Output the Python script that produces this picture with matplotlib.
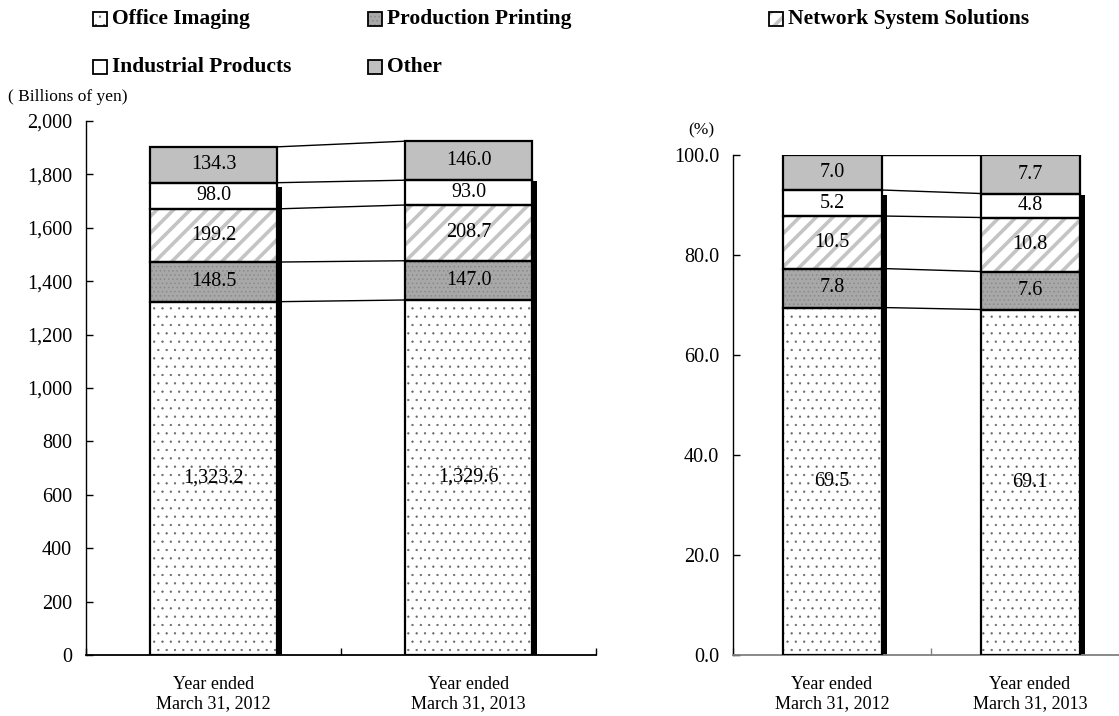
import matplotlib
matplotlib.use("Agg")
import matplotlib.pyplot as plt
from matplotlib.patches import Rectangle
from matplotlib.ticker import FuncFormatter

plt.rcParams["font.family"] = ["Liberation Serif", "DejaVu Serif"]

# ---- data -------------------------------------------------------------
periods = ["Year ended\nMarch 31, 2012", "Year ended\nMarch 31, 2013"]
segments = ["Office Imaging", "Production Printing", "Network System Solutions",
            "Industrial Products", "Other"]
sales_2012 = [1323.2, 148.5, 199.2, 98.0, 134.3]
sales_2013 = [1329.6, 147.0, 208.7, 93.0, 146.0]
share_2012 = [69.5, 7.8, 10.5, 5.2, 7.0]
share_2013 = [69.1, 7.6, 10.8, 4.8, 7.7]

# ---- segment styles: (face, hatch, hatch colour, hatch linewidth) -----
styles = [
    ("white", "..", "#666666", 0.4),
    ("#a8a8a8", "....", "#8a8a8a", 0.6),
    ("white", "//", "#c4c4c4", 2.6),
    ("white", "", "black", 1.0),
    ("#c0c0c0", "", "black", 1.0),
]

W, H = 1119, 716
fig = plt.figure(figsize=(W / 100, H / 100), dpi=100)


def fig_box(x0, y_top, x1, y_bottom):
    return [x0 / W, 1 - y_bottom / H, (x1 - x0) / W, (y_bottom - y_top) / H]


ax_val = fig.add_axes(fig_box(86, 121, 596, 655))
ax_pct = fig.add_axes(fig_box(733, 155, 1129, 655))

BAR_W = 0.5


def draw_stack(ax, columns, ymax, fmt, axis_px_w, axis_px_h, bottom_color):
    ax.set_xlim(-0.5, 1.5)
    ax.set_ylim(0, ymax)
    dx = 5 / axis_px_w * 2.0
    dy = 40 / axis_px_h * ymax
    for i, vals in enumerate(columns):
        total = sum(vals)
        # drop shadow on the right side
        ax.bar(i + dx, total - dy, width=BAR_W, color="black", zorder=1,
               linewidth=0)
        bottom = 0.0
        for v, (face, hatch, hcol, hlw) in zip(vals, styles):
            with plt.rc_context({"hatch.linewidth": hlw}):
                ax.bar(i, v, bottom=bottom, width=BAR_W, color=face,
                       edgecolor=hcol, hatch=hatch, linewidth=0, zorder=2)
            ax.bar(i, v, bottom=bottom, width=BAR_W, color="none",
                   edgecolor="black", linewidth=1.6, zorder=3)
            ax.text(i, bottom + v / 2, fmt(v), ha="center", va="center",
                    fontsize=14.5, zorder=4)
            bottom += v
    # connector lines between the two columns
    c0 = 0.0
    c1 = 0.0
    for a, b in zip(columns[0], columns[1]):
        c0 += a
        c1 += b
        ax.plot([BAR_W / 2, 1 - BAR_W / 2], [c0, c1], color="black",
                linewidth=1.0, zorder=1)
    for s in ("top", "right"):
        ax.spines[s].set_visible(False)
    ax.spines["left"].set_linewidth(1.0)
    ax.spines["bottom"].set_linewidth(1.3)
    ax.spines["bottom"].set_color(bottom_color)
    ax.set_xticks([-0.5, 0.5, 1.5])
    ax.set_xticklabels([])
    ax.tick_params(axis="x", which="major", direction="in", length=5,
                   width=1.0, color=bottom_color)
    ax.set_xticks([0, 1], minor=True)
    ax.set_xticklabels(periods, minor=True, fontsize=13, linespacing=1.15)
    ax.tick_params(axis="x", which="minor", length=0, pad=15)
    ax.tick_params(axis="y", direction="in", length=5, width=1.0,
                   labelsize=14.5, pad=10)
    ax.set_facecolor("none")


draw_stack(ax_val, [sales_2012, sales_2013], 2000,
           lambda v: f"{v:,.1f}", 510, 534, "black")
ax_val.set_yticks(range(0, 2001, 200))
ax_val.yaxis.set_major_formatter(FuncFormatter(lambda v, _: f"{int(v):,}"))

draw_stack(ax_pct, [share_2012, share_2013], 100,
           lambda v: f"{v:.1f}", 396, 500, "#808080")
ax_pct.set_yticks(range(0, 101, 20))
ax_pct.yaxis.set_major_formatter(FuncFormatter(lambda v, _: f"{v:.1f}"))

fig.text(8 / W, 1 - 97 / H, "( Billions of yen)", fontsize=12.5, va="center",
         ha="left")
fig.text(688 / W, 1 - 130 / H, "(%)", fontsize=12.5, va="center", ha="left")

# ---- legend -----------------------------------------------------------
legend_slots = [(93, 19), (368, 19), (769, 19), (93, 67), (368, 67)]
sq = 14
for (x, yc), name, (face, hatch, hcol, hlw) in zip(legend_slots, segments,
                                                  styles):
    with plt.rc_context({"hatch.linewidth": hlw}):
        fig.add_artist(Rectangle((x / W, 1 - (yc + sq / 2) / H), sq / W,
                                 sq / H, transform=fig.transFigure,
                                 facecolor=face, edgecolor=hcol, hatch=hatch,
                                 linewidth=0))
    fig.add_artist(Rectangle((x / W, 1 - (yc + sq / 2) / H), sq / W, sq / H,
                             transform=fig.transFigure, facecolor="none",
                             edgecolor="black", linewidth=1.3))
    fig.text((x + sq + 5) / W, 1 - yc / H, name, fontsize=15.5,
             fontweight="bold", va="center", ha="left")

fig.savefig("out.png", dpi=100)
